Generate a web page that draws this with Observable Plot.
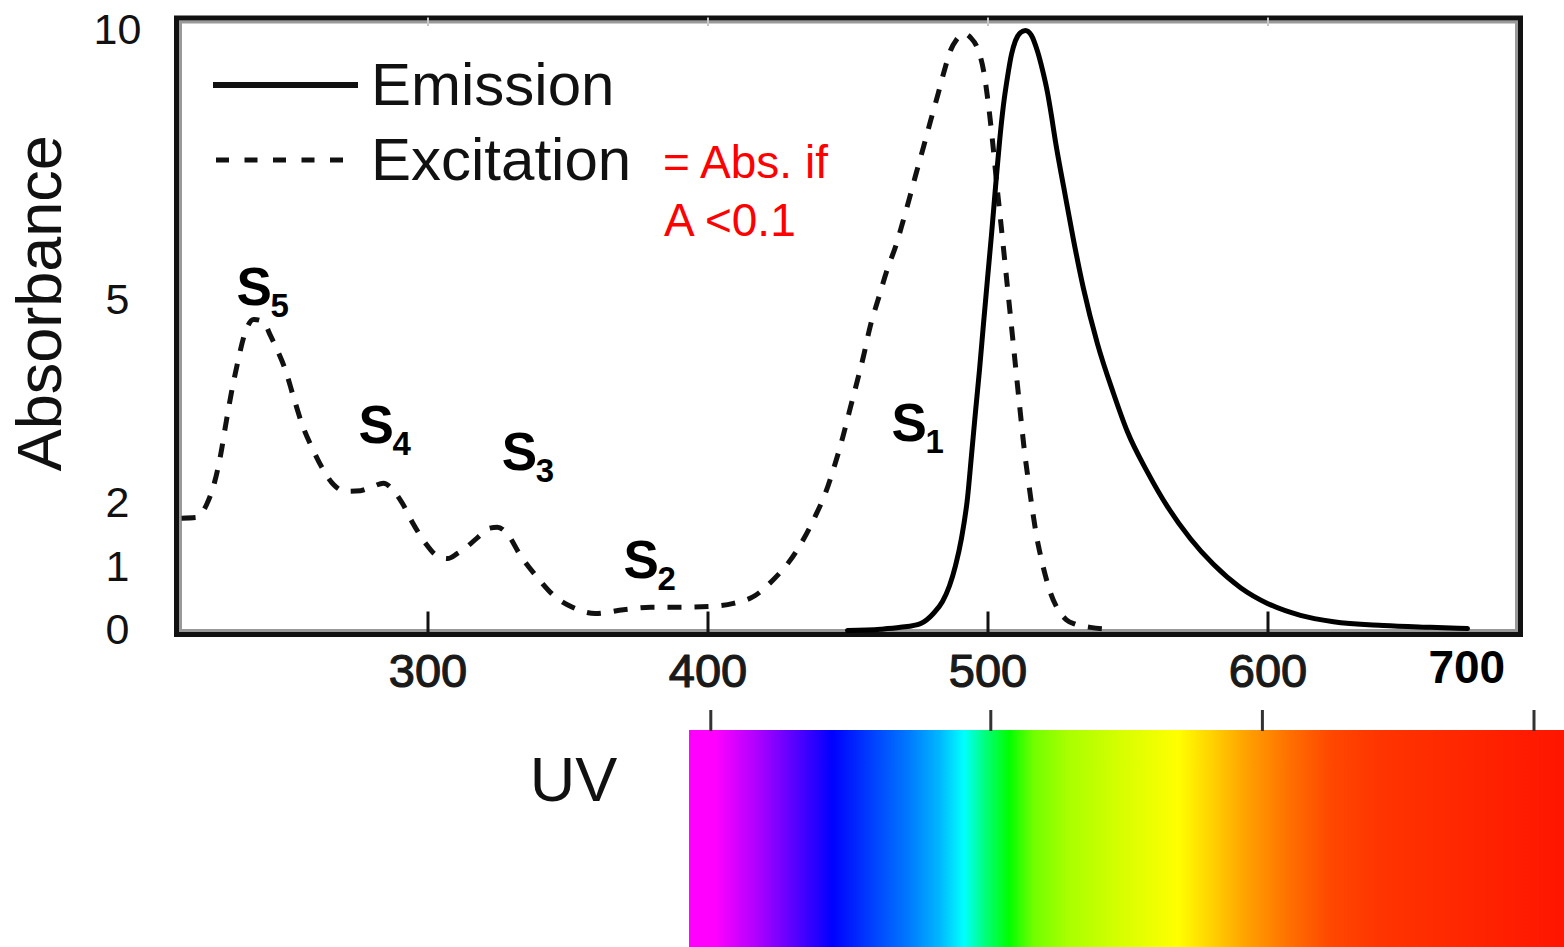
<!DOCTYPE html>
<html>
<head>
<meta charset="utf-8">
<script src="https://cdn.jsdelivr.net/npm/d3@7"></script>
<script src="https://cdn.jsdelivr.net/npm/@observablehq/plot@0.6"></script>
<style>
  html, body { margin: 0; padding: 0; background: #fff; }
  #wrap { position: relative; width: 1564px; height: 947px; overflow: hidden; background: #fff; }
  #wrap > svg { position: absolute; left: 0; }
</style>
</head>
<body>
<div id="wrap"></div>
<script>
// ---------- data ----------
const excitationNm = [212.0,217.0,220.9,223.75,225.9,227.7,229.8,232.0,234.5,237.7,241.1,243.75,246.25,249.1,252.0,255.2,258.75,262.7,266.25,270.5,275.9,280.2,284.1,287.7,290.9,294.5,299.1,303.0,307.0,310.5,314.1,318.0,321.6,324.8,328.4,333.0,339.1,344.8,351.6,359.8,369.8,379.5,389.5,400.2,409.1,417.0,423.4,428.8,434.1,438.4,442.0,445.2,448.0,450.5,453.0,455.5,458.0,460.9,464.1,467.0,469.5,472.3,474.1,477.0,479.5,482.3,484.8,486.6,488.75,491.6,493.75,496.25,498.4,500.2,501.6,503.0,504.5,505.9,507.3,508.75,510.2,511.6,513.0,514.5,515.9,517.3,518.75,520.5,522.3,525.2,528.0,531.25,536.6,543.0];
const excitationAbs = [1.77,1.78,1.98,2.31,2.71,3.15,3.64,4.08,4.50,4.72,4.69,4.48,4.26,3.97,3.57,3.15,2.81,2.49,2.28,2.18,2.19,2.25,2.30,2.19,2.00,1.70,1.38,1.19,1.14,1.22,1.33,1.48,1.61,1.63,1.52,1.19,0.84,0.56,0.37,0.27,0.33,0.37,0.37,0.38,0.43,0.56,0.81,1.08,1.44,1.81,2.16,2.56,2.96,3.36,3.76,4.17,4.63,5.04,5.59,6.00,6.44,6.96,7.31,7.85,8.33,8.85,9.33,9.63,9.83,9.94,9.87,9.67,9.26,8.61,7.96,7.22,6.48,5.78,5.07,4.47,3.88,3.32,2.78,2.31,1.89,1.50,1.19,0.87,0.60,0.32,0.17,0.10,0.05,0.02];

const emissionNm = [449.8,461.6,468.75,475.9,480.5,483.75,486.25,488.4,490.5,492.7,494.1,495.5,497.0,498.4,499.8,501.25,502.7,504.1,505.5,507.0,508.4,509.8,511.6,513.4,515.5,517.7,519.5,521.25,522.7,524.1,527.0,530.5,534.1,539.1,544.8,549.8,557.0,564.1,572.3,580.5,590.2,599.8,611.6,623.4,641.25,658.0,671.25];
const emissionAbs = [0.00,0.02,0.05,0.11,0.27,0.46,0.71,1.03,1.45,2.09,2.71,3.34,3.99,4.66,5.39,6.22,7.11,7.93,8.61,9.15,9.56,9.81,9.96,10.0,9.91,9.61,9.26,8.85,8.41,7.94,7.11,6.13,5.22,4.36,3.63,3.06,2.46,1.95,1.45,1.05,0.68,0.43,0.24,0.14,0.08,0.05,0.03];

const yTicks = [0, 1, 2, 5, 10];
const yTickPixels = [630, 567, 503, 300, 30];   // the figure's y axis is piecewise between these ticks
const xTicks = [300, 400, 500, 600];
const extraTickLabel = "700";
const extraTickNm = 671;

const stateLetter = "S";
const stateSubs = ["5", "4", "3", "2", "1"];
const stateNm = [231.6, 275.2, 326.3, 369.8, 465.5];
const stateAbs = [4.93, 2.89, 2.49, 0.83, 2.93];

const yLabel = "Absorbance";
const legendLabels = ["Emission", "Excitation"];
const noteLines = ["= Abs. if", "A <0.1"];
const uvLabel = "UV";
const uvNm = 352;

const spectrumNm = [393.4,402.7,417.3,432.3,444.5,457.0,471.6,483.0,491.6,498.8,507.7,516.3,528.4,548.4,568.0,580.5,592.7,607.7,622.3,639.5,705.9];
const spectrumColors = ["#ff00ff","#ff00ff","#b000ff","#5000ff","#0000ff","#0038ff","#0078ff","#00b8ff","#00ffff","#00ff80","#00ff00","#70ff00","#a8ff00","#d8ff00","#ffff00","#ffd000","#ffa000","#ff7000","#ff4800","#ff3500","#ff1500"];
const spectrumTicksNm = [401, 501, 598, 695];

// ---------- build ----------
const FONT = "Liberation Sans, Arial, Helvetica, sans-serif";
const excitation = excitationNm.map((x, i) => ({x, y: excitationAbs[i]}));
const emission = emissionNm.map((x, i) => ({x, y: emissionAbs[i]}));
const states = stateNm.map((x, i) => ({x, y: stateAbs[i], sub: stateSubs[i]}));
const xScale = {domain: [300, 600], range: [427.5, 1267.5], axis: null};
// piecewise-linear y scale: absorbance -> pixel, applied as the scale's transform
const yPiece = d3.scaleLinear().domain(yTicks).range(yTickPixels);

const p1 = Plot.plot({
  width: 1564, height: 700,
  marginLeft: 176, marginRight: 44, marginTop: 17.5, marginBottom: 66,
  style: {background: "transparent", fontFamily: FONT, overflow: "visible"},
  x: xScale,
  y: {type: "linear", domain: [0, 700], range: [0, 700], transform: yPiece, axis: null},
  marks: [
    Plot.frame({stroke: "#999", strokeWidth: 3, inset: 4}),
    Plot.frame({stroke: "#111", strokeWidth: 5}),
    Plot.ruleX(xTicks, {x: d => d, insetTop: 594, stroke: "#111", strokeWidth: 3}),
    Plot.ruleX(xTicks, {x: d => d, insetBottom: 608, stroke: "#c8c8c8", strokeWidth: 2}),
    Plot.line(excitation, {x: "x", y: "y", curve: "monotone-x", stroke: "#111", strokeWidth: 5, strokeDasharray: "14,13", strokeLinecap: "butt"}),
    Plot.line(emission, {x: "x", y: "y", curve: "monotone-x", stroke: "#000", strokeWidth: 5}),
    Plot.text(yTicks, {y: d => d, frameAnchor: "left", dx: -59, text: d => String(d), textAnchor: "middle", lineAnchor: "middle", fontSize: 43, fill: "#111"}),
    Plot.text(xTicks, {x: d => d, frameAnchor: "bottom", lineAnchor: "middle", dy: 37, text: d => String(d), fontSize: 47, fill: "#1a1a1a", fontFamily: "Liberation Sans Narrow, Liberation Sans, Arial, sans-serif", stroke: "#1a1a1a", strokeWidth: 1.2}),
    Plot.text([{label: extraTickLabel, x: extraTickNm}], {x: "x", text: "label", frameAnchor: "bottom", lineAnchor: "middle", dy: 34, fontSize: 46, fontWeight: "bold", fill: "#000"}),
    Plot.text(states, {x: "x", y: "y", text: () => stateLetter, textAnchor: "start", lineAnchor: "bottom", fontSize: 53, fontWeight: "bold", fill: "#000"}),
    Plot.text(states, {x: "x", y: "y", text: "sub", textAnchor: "start", lineAnchor: "bottom", dx: 34, dy: 12, fontSize: 33, fontWeight: "bold", fill: "#000"}),
    Plot.text([yLabel], {text: d => d, frameAnchor: "left", textAnchor: "middle", lineAnchor: "middle", dx: -136, dy: -23, rotate: -90, fontSize: 63, fill: "#111"})
  ]
});
p1.style.top = "0px";

const p2 = Plot.plot({
  width: 1564, height: 247,
  marginLeft: 0, marginRight: 0, marginTop: 10, marginBottom: 0,
  style: {background: "transparent", fontFamily: FONT, overflow: "visible"},
  x: xScale,
  marks: [
    Plot.rect([{x1: spectrumNm[0], x2: spectrumNm[spectrumNm.length - 1]}], {x1: "x1", x2: "x2", insetTop: 20, fill: "url(#spectrumGradient)"}),
    Plot.ruleX(spectrumTicksNm, {x: d => d, insetBottom: 216, stroke: "#333", strokeWidth: 3}),
    Plot.text([{label: uvLabel, x: uvNm}], {x: "x", text: "label", frameAnchor: "top", lineAnchor: "middle", dy: 70, fontSize: 63, fill: "#111"})
  ]
});
p2.style.top = "700px";

// gradient for the spectrum bar, built from the stop arrays
(function () {
  const ns = "http://www.w3.org/2000/svg";
  const defs = document.createElementNS(ns, "defs");
  const grad = document.createElementNS(ns, "linearGradient");
  grad.setAttribute("id", "spectrumGradient");
  grad.setAttribute("x1", "0"); grad.setAttribute("x2", "1");
  grad.setAttribute("y1", "0"); grad.setAttribute("y2", "0");
  const lo = spectrumNm[0], hi = spectrumNm[spectrumNm.length - 1];
  spectrumNm.forEach((nm, i) => {
    const s = document.createElementNS(ns, "stop");
    s.setAttribute("offset", ((nm - lo) / (hi - lo)).toFixed(4));
    s.setAttribute("stop-color", spectrumColors[i]);
    grad.appendChild(s);
  });
  defs.appendChild(grad);
  p2.insertBefore(defs, p2.firstChild);
})();

// legend + note overlay
function legendSvg() {
  const ns = "http://www.w3.org/2000/svg";
  const svg = document.createElementNS(ns, "svg");
  svg.setAttribute("width", 1564); svg.setAttribute("height", 700);
  svg.style.top = "0px";
  svg.style.fontFamily = FONT;
  const mk = (tag, attrs, text) => {
    const el = document.createElementNS(ns, tag);
    for (const k in attrs) el.setAttribute(k, attrs[k]);
    if (text != null) el.textContent = text;
    svg.appendChild(el);
    return el;
  };
  mk("line", {x1: 213, x2: 358, y1: 85, y2: 85, stroke: "#111", "stroke-width": 6});
  mk("line", {x1: 216, x2: 346, y1: 160, y2: 160, stroke: "#111", "stroke-width": 5, "stroke-dasharray": "13,15.5"});
  mk("text", {x: 371, y: 105, "font-size": 60, fill: "#111"}, legendLabels[0]);
  mk("text", {x: 371, y: 180, "font-size": 60, fill: "#111"}, legendLabels[1]);
  mk("text", {x: 663, y: 178, "font-size": 46, fill: "#ff0000"}, noteLines[0]);
  mk("text", {x: 664, y: 236, "font-size": 46, fill: "#ff0000"}, noteLines[1]);
  return svg;
}

const wrap = document.getElementById("wrap");
wrap.appendChild(p1);
wrap.appendChild(p2);
wrap.appendChild(legendSvg());
</script>
</body>
</html>
